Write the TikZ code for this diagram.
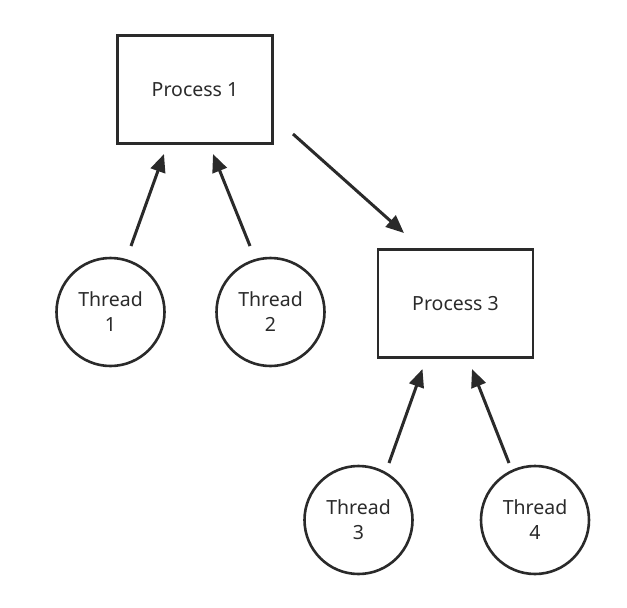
\documentclass[tikz,border=0pt]{standalone}
\usepackage{fontspec}
\setmainfont{Noto Sans}
\usetikzlibrary{arrows.meta}
\definecolor{ink}{HTML}{2A2A2A}
\begin{document}
\begin{tikzpicture}[x=1pt,y=-1pt,
  box/.style={draw=ink, line width=2.6pt, minimum width=155pt, minimum height=108pt, inner sep=0pt, font=\fontsize{19.5}{25}\selectfont, text=ink},
  thr/.style={draw=ink, line width=2.6pt, circle, minimum size=108pt, inner sep=0pt, align=center, font=\fontsize{19.5}{25}\selectfont, text=ink},
  conn/.style={draw=ink, line width=3pt, -{Triangle[length=18pt,width=15pt]}}]
\useasboundingbox (0,0) rectangle (627,608);
\node[box] (p1) at (195,89.5) {Process 1};
\node[box] (p3) at (455.5,303.5) {Process 3};
\node[thr] (t1) at (110.5,312) {Thread\\1};
\node[thr] (t2) at (270.5,312) {Thread\\2};
\node[thr] (t3) at (358.5,520) {Thread\\3};
\node[thr] (t4) at (535,520) {Thread\\4};
\coordinate (a1s) at (131,246);
\coordinate (a1e) at (164,154);
\coordinate (a2s) at (250,246);
\coordinate (a2e) at (213,154);
\coordinate (a3s) at (293,134);
\coordinate (a3e) at (404,233);
\coordinate (a4s) at (389,463);
\coordinate (a4e) at (422.5,369);
\coordinate (a5s) at (509,463);
\coordinate (a5e) at (472,369);
\draw[conn] (a1s) -- (a1e);
\draw[conn] (a2s) -- (a2e);
\draw[conn] (a3s) -- (a3e);
\draw[conn] (a4s) -- (a4e);
\draw[conn] (a5s) -- (a5e);
\end{tikzpicture}
\end{document}
